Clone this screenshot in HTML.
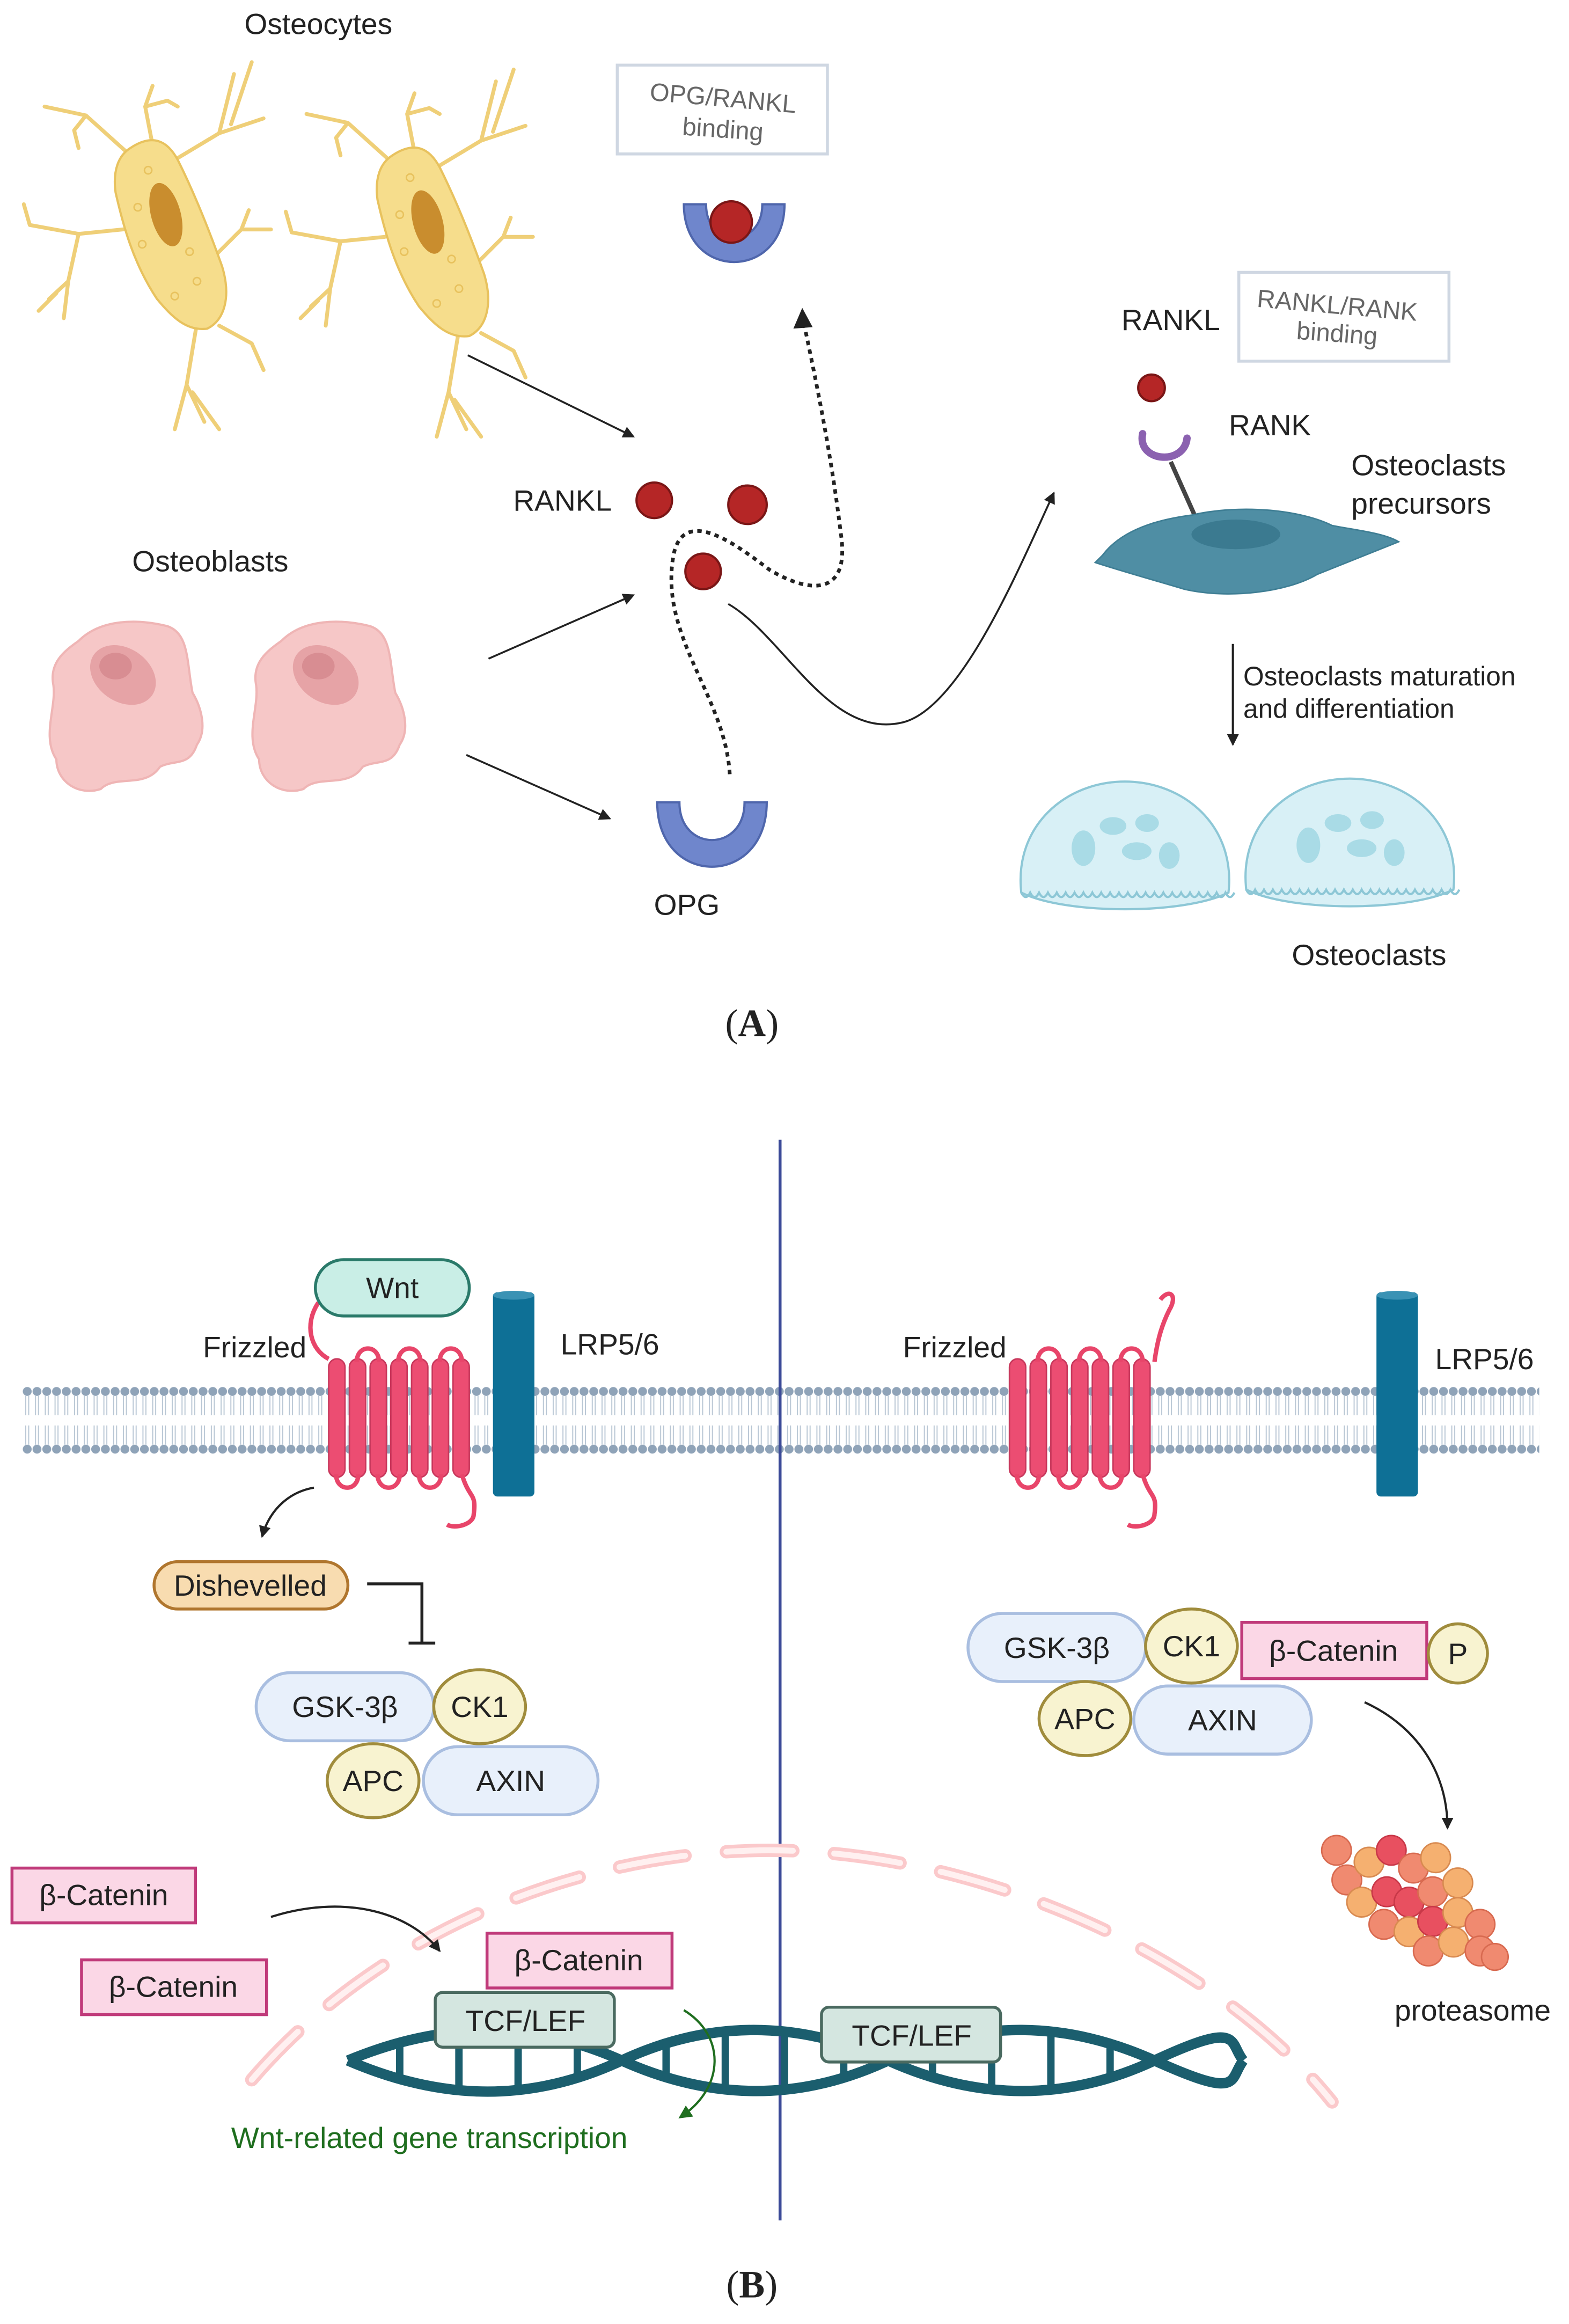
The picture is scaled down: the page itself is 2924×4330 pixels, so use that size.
<!DOCTYPE html>
<html><head><meta charset="utf-8"><style>
html,body{margin:0;padding:0;background:#fff}
svg{display:block}
text{font-family:"Liberation Sans","DejaVu Sans",sans-serif;fill:#222}
</style></head><body>
<svg width="2924" height="4330" viewBox="0 0 1060 1570" xmlns="http://www.w3.org/2000/svg">
<defs>
<marker id="ah" markerWidth="8" markerHeight="8" refX="7" refY="4" orient="auto" markerUnits="userSpaceOnUse"><path d="M0,0 L8,4 L0,8 z" fill="#222"/></marker>
<marker id="ahg" markerWidth="9" markerHeight="9" refX="7" refY="4.5" orient="auto" markerUnits="userSpaceOnUse"><path d="M0,0 L9,4.5 L0,9 z" fill="#1f6e1f"/></marker>
<pattern id="mem" x="15" y="936" width="6.6" height="48" patternUnits="userSpaceOnUse">
<circle cx="3.3" cy="4" r="3" fill="#8fa3b8"/>
<circle cx="3.3" cy="43" r="3" fill="#8fa3b8"/>
<path d="M2.3,7 V20 M4.3,7 V20 M2.3,27 V40 M4.3,27 V40" stroke="#b8c6d4" stroke-width="0.7"/>
</pattern>
<g id="ocyte">
<g stroke="#efcf78" stroke-width="2.6" fill="none" stroke-linecap="round" stroke-linejoin="round">
<path d="M-20,-45 L-50,-72 L-78,-78 M-50,-72 L-58,-62 L-55,-50 M-5,-52 L-10,-78 L-5,-92 M-10,-78 L5,-82 L12,-78 M10,-42 L40,-60 L70,-70 M40,-60 L50,-100 M48,-66 L62,-108 M-25,5 L-55,8 L-88,2 M-88,2 L-92,-12 M-55,8 L-62,40 L-75,52 M-62,40 L-65,65 M-70,48 L-82,60 M35,25 L55,5 L60,-8 M55,5 L75,5 M25,68 L18,110 L10,140 M18,110 L30,135 M22,115 L40,140 M40,70 L62,82 L70,100"/>
</g>
<path d="M-20,-50 C-5,-60 5,-55 12,-42 C22,-22 32,2 42,30 C48,50 44,66 32,72 C18,74 8,64 -2,52 C-18,28 -25,2 -30,-20 C-32,-35 -28,-45 -20,-50 z" fill="#f6dd8c" stroke="#e8c25e" stroke-width="1.5"/>
<ellipse cx="4" cy="-5" rx="10" ry="22" transform="rotate(-15 4 -5)" fill="#c98d2e"/>
<g fill="none" stroke="#e8c25e" stroke-width="1"><circle cx="-15" cy="-10" r="2.5"/><circle cx="-12" cy="15" r="2.5"/><circle cx="20" cy="20" r="2.5"/><circle cx="25" cy="40" r="2.5"/><circle cx="-8" cy="-35" r="2.5"/><circle cx="10" cy="50" r="2.5"/></g>
</g>
<g id="oblast">
<path d="M-35,-45 C-20,-60 5,-60 25,-55 C40,-50 38,-30 42,-10 C48,0 52,15 45,25 C40,40 30,35 20,40 C10,55 -10,45 -20,55 C-35,60 -50,50 -50,35 C-60,20 -50,0 -52,-15 C-55,-30 -45,-38 -35,-45 z" fill="#f6c7c7" stroke="#efb5b5" stroke-width="1.5"/>
<ellipse cx="-5" cy="-22" rx="24" ry="18" transform="rotate(35 -5 -22)" fill="#e6a3a6"/>
<ellipse cx="-10" cy="-28" rx="11" ry="9" fill="#d88d92"/>
</g>
<g id="oclast">
<path d="M-70,25 C-75,-20 -40,-50 0,-50 C40,-50 75,-20 70,25 C40,40 -40,40 -70,25 z" fill="#d8f0f6" stroke="#8dc7d6" stroke-width="1.5"/>
<path d="M-70,25 q3,6 6,0 q3,6 6,0 q3,6 6,0 q3,6 6,0 q3,6 6,0 q3,6 6,0 q3,6 6,0 q3,6 6,0 q3,6 6,0 q3,6 6,0 q3,6 6,0 q3,6 6,0 q3,6 6,0 q3,6 6,0 q3,6 6,0 q3,6 6,0 q3,6 6,0 q3,6 6,0 q3,6 6,0 q3,6 6,0 q3,6 6,0 q3,6 6,0 q3,6 6,0 q3,6 6,0" fill="none" stroke="#8dc7d6" stroke-width="1.5"/>
<ellipse cx="-28" cy="-5" rx="8" ry="12" fill="#a9dbe6"/><ellipse cx="-8" cy="-20" rx="9" ry="6" fill="#a9dbe6"/><ellipse cx="8" cy="-3" rx="10" ry="6" fill="#a9dbe6"/><ellipse cx="30" cy="0" rx="7" ry="9" fill="#a9dbe6"/><ellipse cx="15" cy="-22" rx="8" ry="6" fill="#a9dbe6"/>
</g>
<g id="fz">
<g fill="#ec4d72" stroke="#c8385c" stroke-width="1">
<rect x="0" y="-20" width="11" height="80" rx="5.5"/><rect x="14" y="-20" width="11" height="80" rx="5.5"/><rect x="28" y="-20" width="11" height="80" rx="5.5"/><rect x="42" y="-20" width="11" height="80" rx="5.5"/><rect x="56" y="-20" width="11" height="80" rx="5.5"/><rect x="70" y="-20" width="11" height="80" rx="5.5"/><rect x="84" y="-20" width="11" height="80" rx="5.5"/>
</g>
<path d="M5,58 C5,70 20,70 20,58 M33,58 C33,70 48,70 48,58 M61,58 C61,70 76,70 76,58 M19,-18 C19,-30 34,-30 34,-18 M47,-18 C47,-30 62,-30 62,-18 M75,-18 C75,-30 90,-30 90,-18 M90,58 C95,75 100,70 98,85 C98,92 85,95 80,92" fill="none" stroke="#e8456a" stroke-width="3"/>
</g>
<g id="lrp"><rect x="0" y="0" width="28" height="138" rx="3" fill="#0e7096"/><ellipse cx="14" cy="2" rx="14" ry="3" fill="#3a92b4"/></g>
</defs>

<!-- ===== A ===== -->
<text x="215" y="23" font-size="20" text-anchor="middle">Osteocytes</text>
<use href="#ocyte" x="108" y="150"/>
<use href="#ocyte" x="285" y="155"/>
<rect x="417" y="44" width="142" height="60" fill="#fff" stroke="#cfd7e2" stroke-width="2"/>
<text x="488" y="72" font-size="17" text-anchor="middle" style="fill:#666" transform="rotate(5 488 72)">OPG/RANKL</text>
<text x="488" y="93" font-size="17" text-anchor="middle" style="fill:#666" transform="rotate(4 488 93)">binding</text>
<path d="M462,138 C462,190 530,190 530,138 L515,138 C515,168 477,168 477,138 z" fill="#6f86cc" stroke="#4f66ac" stroke-width="1.5"/>
<circle cx="494" cy="150" r="14" fill="#b52626" stroke="#7a1616" stroke-width="1.5"/>
<line x1="316" y1="240" x2="428" y2="295" stroke="#222" stroke-width="1.3" marker-end="url(#ah)"/>
<text x="380" y="345" font-size="20" text-anchor="middle">RANKL</text>
<circle cx="442" cy="338" r="12" fill="#b52626" stroke="#7a1616" stroke-width="1.5"/>
<circle cx="505" cy="341" r="13" fill="#b52626" stroke="#7a1616" stroke-width="1.5"/>
<circle cx="475" cy="386" r="12" fill="#b52626" stroke="#7a1616" stroke-width="1.5"/>
<text x="142" y="386" font-size="20" text-anchor="middle">Osteoblasts</text>
<use href="#oblast" x="88" y="478"/>
<use href="#oblast" x="225" y="478"/>
<line x1="330" y1="445" x2="428" y2="402" stroke="#222" stroke-width="1.3" marker-end="url(#ah)"/>
<line x1="315" y1="510" x2="412" y2="553" stroke="#222" stroke-width="1.3" marker-end="url(#ah)"/>
<path d="M444,542 C444,600 518,600 518,542 L503,542 C503,576 459,576 459,542 z" fill="#6f86cc" stroke="#4f66ac" stroke-width="1.5"/>
<text x="464" y="618" font-size="20" text-anchor="middle">OPG</text>
<path d="M493,523 C490,470 445,430 455,375 C462,340 500,370 520,385 C545,400 575,405 568,360 C562,310 552,260 543,218" fill="none" stroke="#222" stroke-width="2.5" stroke-dasharray="3,3"/>
<path d="M536,222 L542,208 L549,221 z" fill="#222"/>
<path d="M492,408 C530,430 560,500 610,488 C650,478 690,380 712,333" fill="none" stroke="#222" stroke-width="1.3" marker-end="url(#ah)"/>
<text x="791" y="223" font-size="20" text-anchor="middle">RANKL</text>
<rect x="837" y="184" width="142" height="60" fill="#fff" stroke="#cfd7e2" stroke-width="2"/>
<text x="903" y="212" font-size="17" text-anchor="middle" style="fill:#666" transform="rotate(5 903 212)">RANKL/RANK</text>
<text x="903" y="231" font-size="17" text-anchor="middle" style="fill:#666" transform="rotate(4 903 231)">binding</text>
<circle cx="778" cy="262" r="9" fill="#b52626" stroke="#7a1616" stroke-width="1.5"/>
<path d="M772,293 C768,312 800,315 802,296" fill="none" stroke="#8b61b0" stroke-width="5" stroke-linecap="round"/>
<line x1="791" y1="312" x2="808" y2="350" stroke="#444" stroke-width="3"/>
<text x="858" y="294" font-size="20" text-anchor="middle">RANK</text>
<path d="M745,375 C760,355 790,350 805,348 C840,340 880,345 900,355 C915,358 935,360 945,366 C930,372 910,380 890,388 C870,400 830,405 800,398 C780,392 755,385 740,380 z" fill="#4f8ea4" stroke="#3f7e94" stroke-width="1"/>
<ellipse cx="835" cy="361" rx="30" ry="10" fill="#3b7a90"/>
<text x="913" y="321" font-size="20">Osteoclasts</text>
<text x="913" y="347" font-size="20">precursors</text>
<line x1="833" y1="435" x2="833" y2="503" stroke="#222" stroke-width="1.5" marker-end="url(#ah)"/>
<text x="840" y="463" font-size="18">Osteoclasts maturation</text>
<text x="840" y="485" font-size="18">and differentiation</text>
<use href="#oclast" x="760" y="578"/>
<use href="#oclast" x="912" y="576"/>
<text x="925" y="652" font-size="20" text-anchor="middle">Osteoclasts</text>
<text x="508" y="700" font-size="26" text-anchor="middle" style="font-family:'Liberation Serif',serif">(<tspan font-weight="bold">A</tspan>)</text>

<!-- ===== B ===== -->
<rect x="15" y="936" width="1025" height="48" fill="url(#mem)"/>
<line x1="527" y1="770" x2="527" y2="1500" stroke="#3b4a98" stroke-width="2"/>
<use href="#fz" x="222" y="938"/>
<path d="M222,918 C210,912 205,895 215,880" fill="none" stroke="#e8456a" stroke-width="3"/>
<rect x="213" y="851" width="104" height="38" rx="19" fill="#c9eee6" stroke="#2a7a6a" stroke-width="2"/>
<text x="265" y="877" font-size="20" text-anchor="middle">Wnt</text>
<text x="172" y="917" font-size="20" text-anchor="middle">Frizzled</text>
<use href="#lrp" x="333" y="873"/>
<text x="412" y="915" font-size="20" text-anchor="middle">LRP5/6</text>
<path d="M212,1005 C195,1008 182,1020 177,1038" fill="none" stroke="#222" stroke-width="1.5" marker-end="url(#ah)"/>
<rect x="104" y="1055" width="131" height="32" rx="16" fill="#f8dcb0" stroke="#b0762e" stroke-width="2"/>
<text x="169" y="1078" font-size="20" text-anchor="middle">Dishevelled</text>
<path d="M248,1070 H285 V1110 M276,1110 H294" fill="none" stroke="#222" stroke-width="2"/>
<rect x="173" y="1130" width="120" height="46" rx="23" fill="#e8f0fb" stroke="#a9bee0" stroke-width="2"/>
<text x="233" y="1160" font-size="20" text-anchor="middle">GSK-3β</text>
<ellipse cx="324" cy="1153" rx="31" ry="25" fill="#f8f3d0" stroke="#a08c3c" stroke-width="2"/>
<text x="324" y="1160" font-size="20" text-anchor="middle">CK1</text>
<rect x="286" y="1180" width="118" height="46" rx="23" fill="#e8f0fb" stroke="#a9bee0" stroke-width="2"/>
<text x="345" y="1210" font-size="20" text-anchor="middle">AXIN</text>
<ellipse cx="252" cy="1203" rx="31" ry="25" fill="#f8f3d0" stroke="#a08c3c" stroke-width="2"/>
<text x="252" y="1210" font-size="20" text-anchor="middle">APC</text>

<path d="M170,1405 C260,1300 400,1250 520,1250 C660,1250 820,1320 900,1420" fill="none" stroke="#fbc9cb" stroke-width="9" stroke-dasharray="45,28" stroke-linecap="round"/>
<path d="M170,1405 C260,1300 400,1250 520,1250 C660,1250 820,1320 900,1420" fill="none" stroke="#fff0f0" stroke-width="4" stroke-dasharray="45,28" stroke-linecap="round"/>

<g fill="#fbd7e6" stroke="#c03a7a" stroke-width="2">
<rect x="8" y="1262" width="124" height="37"/><rect x="55" y="1324" width="125" height="37"/><rect x="329" y="1306" width="125" height="37"/>
<rect x="839" y="1096" width="125" height="38"/></g>
<text x="70" y="1287" font-size="20" text-anchor="middle">β-Catenin</text>
<text x="117" y="1349" font-size="20" text-anchor="middle">β-Catenin</text>
<text x="391" y="1331" font-size="20" text-anchor="middle">β-Catenin</text>
<text x="901" y="1122" font-size="20" text-anchor="middle">β-Catenin</text>
<path d="M183,1295 C230,1280 275,1290 297,1318" fill="none" stroke="#222" stroke-width="1.5" marker-end="url(#ah)"/>

<g fill="none" stroke="#1b5e6e" stroke-width="7">
<path d="M235,1392 C300,1365 360,1365 420,1392 S540,1420 600,1392 S720,1365 780,1392 S830,1405 840,1392"/>
<path d="M235,1392 C300,1420 360,1420 420,1392 S540,1365 600,1392 S720,1420 780,1392 S830,1380 840,1392"/>
</g>
<g stroke="#1b5e6e" stroke-width="5">
<line x1="270" y1="1381" x2="270" y2="1403"/><line x1="310" y1="1375" x2="310" y2="1409"/><line x1="350" y1="1375" x2="350" y2="1409"/><line x1="390" y1="1381" x2="390" y2="1403"/>
<line x1="450" y1="1381" x2="450" y2="1403"/><line x1="490" y1="1375" x2="490" y2="1409"/><line x1="530" y1="1375" x2="530" y2="1409"/><line x1="570" y1="1381" x2="570" y2="1403"/>
<line x1="630" y1="1381" x2="630" y2="1403"/><line x1="670" y1="1375" x2="670" y2="1409"/><line x1="710" y1="1375" x2="710" y2="1409"/><line x1="750" y1="1381" x2="750" y2="1403"/>
</g>
<rect x="294" y="1346" width="121" height="37" rx="5" fill="#d4e6e0" stroke="#4a6a60" stroke-width="2"/>
<text x="355" y="1372" font-size="20" text-anchor="middle">TCF/LEF</text>
<rect x="555" y="1356" width="121" height="37" rx="5" fill="#d4e6e0" stroke="#4a6a60" stroke-width="2"/>
<text x="616" y="1382" font-size="20" text-anchor="middle">TCF/LEF</text>
<path d="M462,1358 C490,1375 490,1410 460,1430" fill="none" stroke="#1f6e1f" stroke-width="1.5" marker-end="url(#ahg)"/>
<text x="290" y="1451" font-size="20" text-anchor="middle" style="fill:#1f6e1f">Wnt-related gene transcription</text>

<use href="#fz" x="682" y="938"/>
<path d="M780,920 C782,905 785,895 790,885 C796,875 790,870 784,878" fill="none" stroke="#e8456a" stroke-width="3"/>
<text x="645" y="917" font-size="20" text-anchor="middle">Frizzled</text>
<use href="#lrp" x="930" y="873"/>
<text x="1003" y="925" font-size="20" text-anchor="middle">LRP5/6</text>
<rect x="654" y="1090" width="120" height="46" rx="23" fill="#e8f0fb" stroke="#a9bee0" stroke-width="2"/>
<text x="714" y="1120" font-size="20" text-anchor="middle">GSK-3β</text>
<ellipse cx="805" cy="1112" rx="31" ry="25" fill="#f8f3d0" stroke="#a08c3c" stroke-width="2"/>
<text x="805" y="1119" font-size="20" text-anchor="middle">CK1</text>
<circle cx="985" cy="1117" r="20" fill="#f8f3d0" stroke="#a08c3c" stroke-width="2"/>
<text x="985" y="1124" font-size="20" text-anchor="middle">P</text>
<rect x="766" y="1139" width="120" height="46" rx="23" fill="#e8f0fb" stroke="#a9bee0" stroke-width="2"/>
<text x="826" y="1169" font-size="20" text-anchor="middle">AXIN</text>
<ellipse cx="733" cy="1161" rx="31" ry="25" fill="#f8f3d0" stroke="#a08c3c" stroke-width="2"/>
<text x="733" y="1168" font-size="20" text-anchor="middle">APC</text>
<path d="M922,1150 C955,1165 978,1195 978,1235" fill="none" stroke="#222" stroke-width="1.5" marker-end="url(#ah)"/>
<g stroke-width="1">
<circle cx="903" cy="1250" r="10" fill="#f08a70" stroke="#d86a50"/><circle cx="910" cy="1270" r="10" fill="#f08a70" stroke="#d86a50"/><circle cx="925" cy="1258" r="10" fill="#f5b070" stroke="#d88a50"/><circle cx="940" cy="1250" r="10" fill="#e85060" stroke="#c83848"/><circle cx="955" cy="1262" r="10" fill="#f08a70" stroke="#d86a50"/><circle cx="970" cy="1255" r="10" fill="#f5b070" stroke="#d88a50"/>
<circle cx="920" cy="1285" r="10" fill="#f5b070" stroke="#d88a50"/><circle cx="937" cy="1278" r="10" fill="#e85060" stroke="#c83848"/><circle cx="952" cy="1285" r="10" fill="#e85060" stroke="#c83848"/><circle cx="968" cy="1278" r="10" fill="#f08a70" stroke="#d86a50"/><circle cx="985" cy="1272" r="10" fill="#f5b070" stroke="#d88a50"/>
<circle cx="935" cy="1300" r="10" fill="#f08a70" stroke="#d86a50"/><circle cx="952" cy="1305" r="10" fill="#f5b070" stroke="#d88a50"/><circle cx="968" cy="1298" r="10" fill="#e85060" stroke="#c83848"/><circle cx="985" cy="1292" r="10" fill="#f5b070" stroke="#d88a50"/><circle cx="1000" cy="1300" r="10" fill="#f08a70" stroke="#d86a50"/>
<circle cx="965" cy="1318" r="10" fill="#f08a70" stroke="#d86a50"/><circle cx="982" cy="1312" r="10" fill="#f5b070" stroke="#d88a50"/><circle cx="1000" cy="1318" r="10" fill="#f08a70" stroke="#d86a50"/><circle cx="1010" cy="1322" r="9" fill="#f08a70" stroke="#d86a50"/>
</g>
<text x="995" y="1365" font-size="20" text-anchor="middle">proteasome</text>
<text x="508" y="1552" font-size="26" text-anchor="middle" style="font-family:'Liberation Serif',serif">(<tspan font-weight="bold">B</tspan>)</text>
</svg>
</body></html>
